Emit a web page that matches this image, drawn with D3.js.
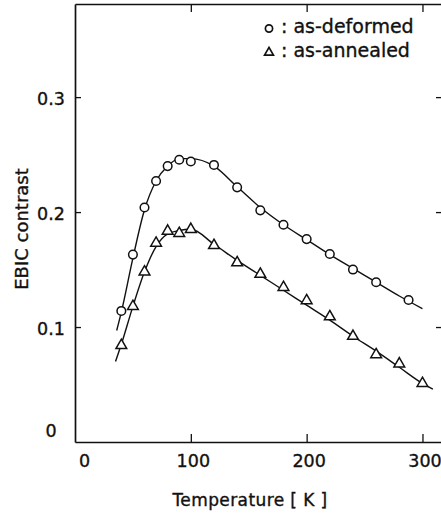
<!DOCTYPE html>
<html>
<head>
<meta charset="utf-8">
<script src="https://cdn.jsdelivr.net/npm/d3@7"></script>
<style>
  body { margin: 0; background: #fff; }
  svg text { font-family: "DejaVu Sans", sans-serif; fill: #111; stroke: #111; stroke-width: 0.35px; }
</style>
</head>
<body>
<script>
const tempDeformed = [40, 50, 60, 70, 80, 90, 100, 120, 140, 160, 180, 200, 220, 240, 260, 288];
const contrastDeformed = [0.114, 0.163, 0.204, 0.227, 0.240, 0.2455, 0.244, 0.241, 0.2215, 0.2015, 0.189, 0.1765, 0.1635, 0.150, 0.139, 0.1235];
const tempAnnealed = [40, 50, 60, 70, 80, 90, 100, 120, 140, 160, 180, 200, 220, 240, 260, 280, 300];
const contrastAnnealed = [0.084, 0.118, 0.148, 0.173, 0.1835, 0.1815, 0.185, 0.171, 0.156, 0.146, 0.1345, 0.123, 0.109, 0.092, 0.076, 0.068, 0.051];

// hand drawn fit curves
const fitTempDeformed = [36, 40, 50, 60, 70, 80, 90, 100, 120, 140, 160, 180, 200, 220, 240, 260, 280, 300];
const fitDeformed = [0.097, 0.113, 0.160, 0.202, 0.227, 0.240, 0.2465, 0.2465, 0.240, 0.222, 0.204, 0.189, 0.176, 0.163, 0.151, 0.139, 0.127, 0.116];
const fitTempAnnealed = [35, 40, 50, 60, 70, 80, 90, 100, 120, 140, 160, 180, 200, 220, 240, 260, 280, 300, 309];
const fitAnnealed = [0.070, 0.085, 0.118, 0.148, 0.170, 0.181, 0.184, 0.185, 0.172, 0.158, 0.145, 0.132, 0.119, 0.106, 0.092, 0.079, 0.065, 0.051, 0.046];

const xTicks = [0, 100, 200, 300];
const yTicks = [0, 0.1, 0.2, 0.3];
const yTickLabels = ["0", "0.1", "0.2", "0.3"];
const legendLabels = [": as-deformed", ": as-annealed"];

const W = 441, H = 515;
const svg = d3.select("body").append("svg").attr("width", W).attr("height", H);

const x = d3.scaleLinear().domain([0, 316]).range([75, 441]);
const y = d3.scaleLinear().domain([0, 0.381]).range([442, 4]);

// bottom axis
const gx = svg.append("g").attr("transform", `translate(0,${y(0)})`)
  .call(d3.axisBottom(x).tickValues(xTicks).tickSizeInner(-8).tickSizeOuter(0).tickPadding(13));
gx.selectAll("text").attr("font-size", 17.5).attr("dx", d => d === 0 ? 9 : 2);
gx.selectAll(".tick").filter(d => d === 0).select("line").remove();

// top axis
svg.append("g").attr("transform", `translate(0,${y(0.381)})`)
  .call(d3.axisTop(x).tickValues([100, 200, 300]).tickSizeInner(-8).tickSizeOuter(0).tickFormat(""));

// left axis
const gy = svg.append("g").attr("transform", `translate(${x(0)},0)`)
  .call(d3.axisLeft(y).tickValues(yTicks).tickSizeInner(-6).tickSizeOuter(0)
    .tickFormat((d, i) => yTickLabels[i]));
gy.selectAll("text").attr("font-size", 17.5).attr("text-anchor", "middle").attr("x", -24)
  .attr("dy", d => d === 0 ? "-0.3em" : "0.4em");
gy.selectAll(".tick").filter(d => d === 0).select("line").remove();

// right ticks
const gr = svg.append("g").attr("transform", `translate(441,0)`)
  .call(d3.axisRight(y).tickValues([0.1, 0.2, 0.3]).tickSizeInner(-5).tickSizeOuter(0).tickFormat(""));
gr.select(".domain").remove();

svg.selectAll(".domain").attr("stroke", "#111").attr("stroke-width", 1.7);
svg.selectAll(".tick line").attr("stroke", "#111").attr("stroke-width", 1.3);
svg.selectAll(".tick text").attr("font-family", "\"Liberation Sans\", sans-serif").attr("fill", "#111");

// fit lines
const line = d3.line().x(d => x(d[0])).y(d => y(d[1])).curve(d3.curveMonotoneX);
svg.append("path").datum(d3.zip(fitTempDeformed, fitDeformed))
  .attr("d", line).attr("fill", "none").attr("stroke", "#111").attr("stroke-width", 1.4);
svg.append("path").datum(d3.zip(fitTempAnnealed, fitAnnealed))
  .attr("d", line).attr("fill", "none").attr("stroke", "#111").attr("stroke-width", 1.4);

// markers
svg.append("g").selectAll("circle").data(d3.zip(tempDeformed, contrastDeformed)).join("circle")
  .attr("cx", d => x(d[0])).attr("cy", d => y(d[1])).attr("r", 4.3)
  .attr("fill", "#fff").attr("stroke", "#111").attr("stroke-width", 1.5);

const tri = d3.symbol().type(d3.symbolTriangle).size(50);
svg.append("g").selectAll("path").data(d3.zip(tempAnnealed, contrastAnnealed)).join("path")
  .attr("d", tri).attr("transform", d => `translate(${x(d[0])},${y(d[1])})`)
  .attr("fill", "#fff").attr("stroke", "#111").attr("stroke-width", 1.5);

// legend
const lg = svg.append("g");
lg.append("circle").attr("cx", 269).attr("cy", 28.5).attr("r", 3.6)
  .attr("fill", "#fff").attr("stroke", "#111").attr("stroke-width", 1.7);
lg.append("path").attr("d", d3.symbol().type(d3.symbolTriangle).size(34))
  .attr("transform", "translate(269,52.5)")
  .attr("fill", "#fff").attr("stroke", "#111").attr("stroke-width", 1.7);
lg.selectAll("text").data(legendLabels).join("text")
  .attr("x", 281).attr("y", (d, i) => 33 + i * 24)
  .attr("font-size", 19).text(d => d);

// axis titles
svg.append("text").attr("x", 250).attr("y", 506).attr("text-anchor", "middle")
  .attr("font-size", 17).attr("letter-spacing", 0.4).text("Temperature  [ K ]");
svg.append("text").attr("transform", "translate(28,229) rotate(-90)").attr("text-anchor", "middle")
  .attr("font-size", 18).text("EBIC contrast");
</script>
</body>
</html>
